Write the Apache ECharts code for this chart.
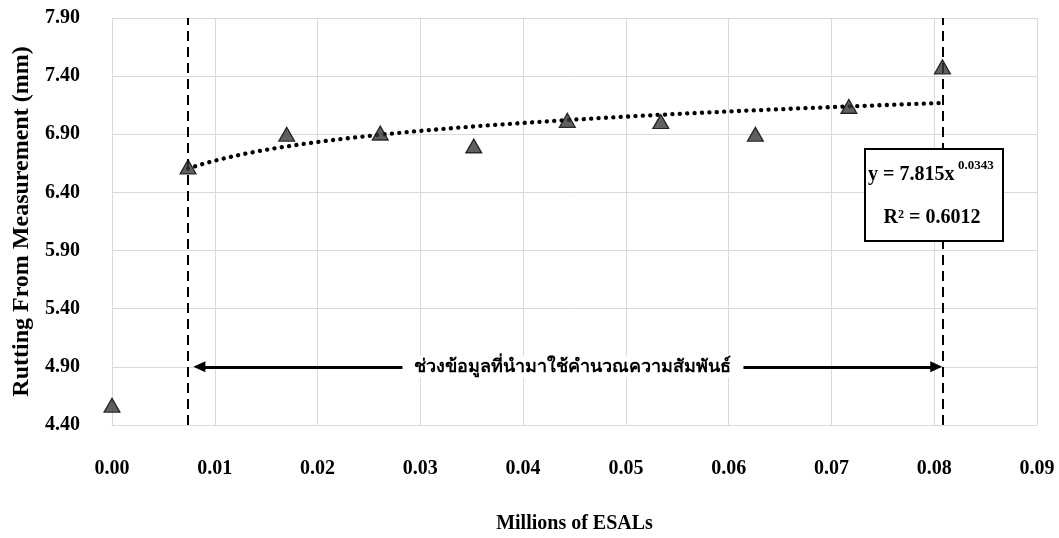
<!DOCTYPE html>
<html>
<head>
<meta charset="utf-8">
<script src="https://cdn.jsdelivr.net/npm/echarts@6/dist/echarts.min.js"></script>
<style>html,body{margin:0;padding:0;background:#fff}#c{width:1059px;height:538px}</style>
</head>
<body>
<div id="c"></div>
<script>
// Data
const esals = [0.0000, 0.0074, 0.0170, 0.0261, 0.0352, 0.0443, 0.0534, 0.0626, 0.0717, 0.0808];
const rutting = [4.57, 6.62, 6.90, 6.91, 6.80, 7.02, 7.01, 6.90, 7.14, 7.48];
const yTicks = [4.40, 4.90, 5.40, 5.90, 6.40, 6.90, 7.40, 7.90];
const trendA = 7.815, trendB = 0.0343, trendR2 = 0.6012;
const rangeStart = 0.0074, rangeEnd = 0.0808;
const arrowStart = 0.0085, arrowEnd = 0.0802, arrowY = 4.90;
const rangeLabel = 'ช่วงข้อมูลที่นำมาใช้คำนวณความสัมพันธ์';

const pts = esals.map((x, i) => [x, rutting[i]]);
// Trendline drawn from the chart's displayed power-fit equation
const trend = [];
const nT = 80;
for (let i = 0; i <= nT; i++) {
  const x = rangeStart + (rangeEnd - rangeStart) * i / nT;
  trend.push([x, trendA * Math.pow(x, trendB)]);
}

const FONT = '"Liberation Serif", "Times New Roman", serif';
const chart = echarts.init(document.getElementById('c'), null, {renderer: 'canvas'});
chart.setOption({
  animation: false,
  backgroundColor: '#fff',
  grid: {left: 112, top: 18, width: 925, height: 407, containLabel: false, outerBoundsMode: 'none'},
  xAxis: {
    type: 'value', min: 0, max: 0.09, interval: 0.01,
    name: 'Millions of ESALs', nameLocation: 'middle', nameGap: 89,
    nameTextStyle: {fontFamily: FONT, fontWeight: 'bold', fontSize: 20, color: '#000'},
    axisLine: {show: true, lineStyle: {color: '#d9d9d9', width: 1}},
    axisTick: {show: false},
    axisLabel: {margin: 34, fontFamily: FONT, fontWeight: 'bold', fontSize: 20, color: '#000',
      formatter: v => v.toFixed(2)},
    splitLine: {show: true, lineStyle: {color: '#d9d9d9', width: 1}}
  },
  yAxis: {
    type: 'value', min: 4.4, max: 7.9,
    name: 'Rutting From Measurement (mm)', nameLocation: 'middle', nameGap: 78,
    nameTextStyle: {fontFamily: FONT, fontWeight: 'bold', fontSize: 24, color: '#000'},
    axisLine: {show: true, lineStyle: {color: '#d9d9d9', width: 1}},
    axisTick: {show: false, customValues: yTicks},
    axisLabel: {margin: 32, fontFamily: FONT, fontWeight: 'bold', fontSize: 20, color: '#000',
      customValues: yTicks, formatter: v => v.toFixed(2)},
    splitLine: {show: true, lineStyle: {color: '#d9d9d9', width: 1}}
  },
  series: [
    {
      type: 'line', data: trend, showSymbol: false, smooth: false, z: 3,
      lineStyle: {color: '#000', width: 4.3, type: [0.1, 7.3], cap: 'round'},
      markLine: {
        silent: true, symbol: ['none', 'none'], precision: 6,
        lineStyle: {color: '#000', width: 2, type: [10, 6]},
        label: {show: false},
        data: [{xAxis: rangeStart}, {xAxis: rangeEnd}]
      }
    },
    {
      type: 'line', data: [],
      markLine: {
        silent: true, symbol: ['triangle', 'triangle'], symbolSize: [11, 12], precision: 6,
        lineStyle: {color: '#000', width: 3, type: 'solid'},
        label: {show: false},
        data: [[{coord: [arrowStart, arrowY]}, {coord: [arrowEnd, arrowY]}]]
      },
      markPoint: {
        silent: true, symbol: 'rect', symbolSize: 1,
        itemStyle: {color: 'rgba(0,0,0,0)'},
        label: {show: true, position: 'inside', formatter: rangeLabel,
          fontWeight: 'bold', fontSize: 18, color: '#000', backgroundColor: '#fff',
          padding: [2, 12], fontFamily: '"Noto Sans", "DejaVu Sans", sans-serif'},
        data: [{coord: [(arrowStart + arrowEnd) / 2 + 0.0005, arrowY]}]
      }
    },
    {
      type: 'scatter', data: pts, symbol: 'triangle', symbolSize: [16, 14], z: 5,
      itemStyle: {color: '#383838', borderColor: '#000', borderWidth: 1.2}
    }
  ],
  graphic: [
    {
      type: 'rect', left: 864, top: 148, z: 10,
      shape: {width: 138, height: 92},
      style: {fill: '#fff', stroke: '#000', lineWidth: 2}
    },
    {
      type: 'text', x: 868, y: 175, z: 11,
      style: {text: 'y = ' + trendA + 'x', font: 'bold 20px ' + FONT, fill: '#000',
        textAlign: 'left', textVerticalAlign: 'middle'}
    },
    {
      type: 'text', x: 958, y: 166, z: 11,
      style: {text: String(trendB), font: 'bold 13px ' + FONT, fill: '#000',
        textAlign: 'left', textVerticalAlign: 'middle'}
    },
    {
      type: 'text', x: 932, y: 218, z: 11,
      style: {text: 'R² = ' + trendR2, font: 'bold 20px ' + FONT, fill: '#000',
        textAlign: 'center', textVerticalAlign: 'middle'}
    }
  ]
});
</script>
</body>
</html>
